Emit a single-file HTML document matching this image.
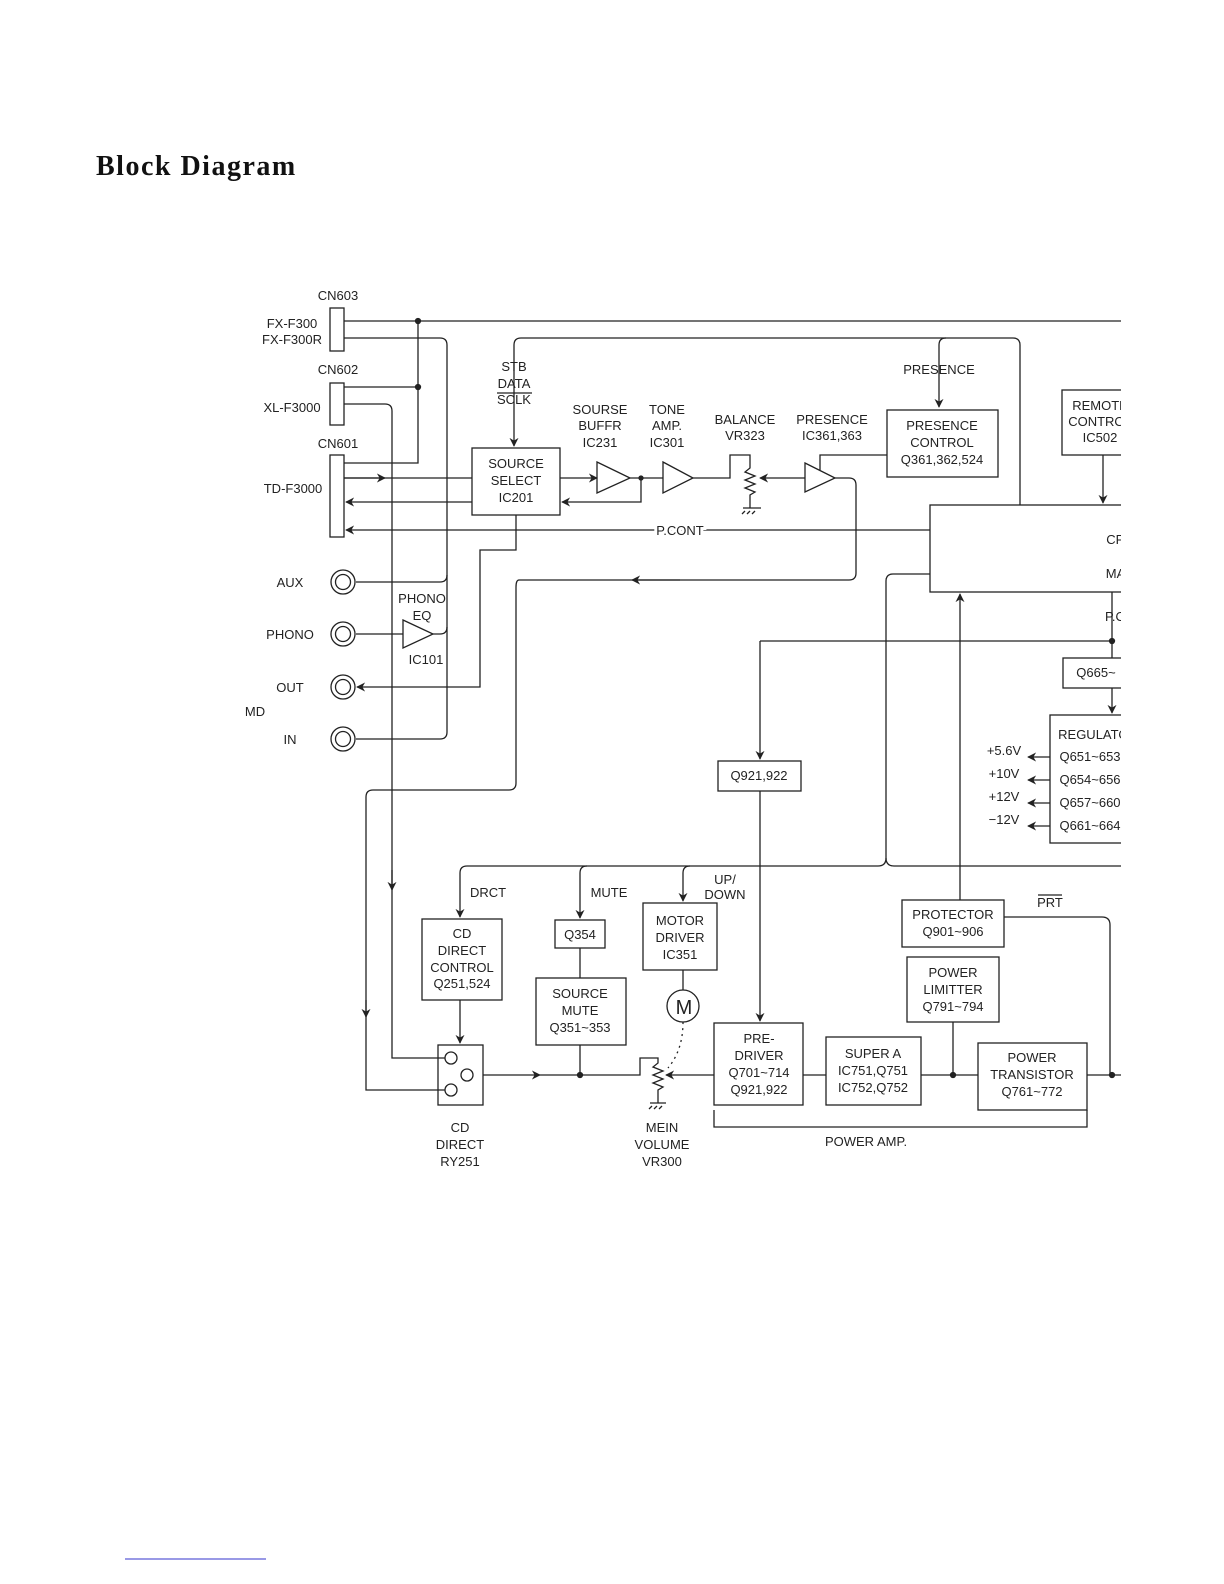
<!DOCTYPE html>
<html><head><meta charset="utf-8"><style>
html,body{margin:0;padding:0;background:#fff;width:1224px;height:1584px;overflow:hidden}
svg{position:absolute;left:0;top:0}
text{font-family:"Liberation Sans",sans-serif;font-size:13px;fill:#222;text-anchor:middle}
.t{font-family:"Liberation Serif",serif;font-weight:bold;font-size:28px;text-anchor:start;fill:#111;letter-spacing:1.5px}
</style></head><body>
<svg width="1224" height="1584" viewBox="0 0 1224 1584">
<defs>
<marker id="a" viewBox="0 0 10 10" refX="9" refY="5" markerWidth="9" markerHeight="9" orient="auto-start-reverse" markerUnits="userSpaceOnUse"><path d="M0,0 L10,5 L0,10 L3,5 z" fill="#222"/></marker>
<clipPath id="c"><rect x="0" y="0" width="1121" height="1584"/></clipPath>
</defs>
<text class="t" x="96" y="175">Block Diagram</text>
<line x1="125" y1="1559" x2="266" y2="1559" stroke="#33c" stroke-width="1"/>
<g clip-path="url(#c)" stroke="#222" stroke-width="1.3" fill="none">
<rect x="330" y="308" width="14" height="43"/>
<rect x="330" y="383" width="14" height="42"/>
<rect x="330" y="455" width="14" height="82"/>
<path d="M344 321H1130"/>
<path d="M344 338H440Q447 338 447 345V732Q447 739 440 739H356"/>
<path d="M418 321V463H344"/>
<path d="M344 387H418"/>
<circle cx="418" cy="321" r="2.5" fill="#222"/>
<circle cx="418" cy="387" r="2.5" fill="#222"/>
<path d="M344 404H385Q392 404 392 411V1058H445"/>
<path d="M344 478H472"/>
<path d="M344 478L385 478" marker-end="url(#a)"/>
<path d="M472 502H346" marker-end="url(#a)"/>
<path d="M930 530H346" marker-end="url(#a)"/>
<path d="M356 582H440Q447 582 447 575"/>
<path d="M356 634H403"/>
<path d="M433 634H440Q447 634 447 627"/>
<polygon points="403,620 433,634 403,648"/>
<path d="M516 515V550H480V687H357" marker-end="url(#a)"/>
<rect x="472" y="448" width="88" height="67"/>
<path d="M514 415V446" marker-end="url(#a)"/>
<path d="M514 415V345Q514 338 521 338H1013Q1020 338 1020 345V505"/>
<path d="M560 478H597" marker-end="url(#a)"/>
<polygon points="597,462 630,478 597,493"/>
<path d="M630 478H663"/>
<circle cx="641" cy="478" r="2" fill="#222"/>
<path d="M641 478V502H562" marker-end="url(#a)"/>
<polygon points="663,462 693,478 663,493"/>
<path d="M693 478H730V455H750V468l-5,4 10,4 -10,4 10,4 -10,4 10,4 -5,3V508"/>
<path d="M743 508h18M745 511l-3,3M750 511l-3,3M755 511l-3,3"/>
<path d="M805 478H760" marker-end="url(#a)"/>
<polygon points="805,463 835,478 805,492"/>
<path d="M820 470V455H887"/>
<path d="M835 478H849Q856 478 856 485V573Q856 580 849 580H519Q516 580 516 587V783Q516 790 509 790H373Q366 790 366 797V1090H445"/>
<path d="M680 580L632 580" marker-end="url(#a)"/>
<rect x="887" y="410" width="111" height="67"/>
<path d="M939 345V407" marker-end="url(#a)"/>
<path d="M939 345Q939 338 946 338"/>
<rect x="1062" y="390" width="70" height="65"/>
<path d="M1103 455V503" marker-end="url(#a)"/>
<rect x="930" y="505" width="200" height="87"/>
<path d="M930 574H893Q886 574 886 581V858Q886 866 878 866H467Q460 866 460 873V917" marker-end="url(#a)"/>
<path d="M886 858Q886 866 894 866H1130"/>
<path d="M1112 592V658M760 641H1112"/>
<circle cx="1112" cy="641" r="2.5" fill="#222"/>
<path d="M760 641V759" marker-end="url(#a)"/>
<rect x="1063" y="658" width="70" height="30"/>
<path d="M1112 688V713" marker-end="url(#a)"/>
<rect x="1050" y="715" width="80" height="128"/>
<path d="M1050 757H1028" marker-end="url(#a)"/>
<path d="M1050 780H1028" marker-end="url(#a)"/>
<path d="M1050 803H1028" marker-end="url(#a)"/>
<path d="M1050 826H1028" marker-end="url(#a)"/>
<rect x="718" y="761" width="83" height="30"/>
<path d="M580 873Q580 866 587 866M580 873V918" marker-end="url(#a)"/>
<path d="M683 873Q683 866 690 866M683 873V901" marker-end="url(#a)"/>
<path d="M392 870V890" marker-end="url(#a)"/>
<path d="M366 1000V1017" marker-end="url(#a)"/>
<rect x="422" y="919" width="80" height="81"/>
<path d="M460 1000V1043" marker-end="url(#a)"/>
<rect x="555" y="920" width="50" height="28"/>
<path d="M580 948V978"/>
<rect x="536" y="978" width="90" height="67"/>
<path d="M580 1045V1075"/>
<rect x="643" y="903" width="74" height="67"/>
<path d="M683 970V990"/>
<circle cx="683" cy="1006" r="16"/>
<path d="M683 1022Q683 1050 668 1068" stroke-dasharray="2,4"/>
<path d="M760 791V1021" marker-end="url(#a)"/>
<rect x="438" y="1045" width="45" height="60"/>
<circle cx="451" cy="1058" r="6"/><circle cx="467" cy="1075" r="6"/><circle cx="451" cy="1090" r="6"/>
<path d="M483 1075H540" marker-end="url(#a)"/>
<path d="M540 1075H640V1058H658V1063l-5,4 10,4 -10,4 10,4 -10,4 10,4 -5,3V1103"/>
<path d="M650 1103h16M652 1106l-3,3M657 1106l-3,3M662 1106l-3,3"/>
<circle cx="580" cy="1075" r="2.5" fill="#222"/>
<path d="M714 1075H666" marker-end="url(#a)"/>
<rect x="714" y="1023" width="89" height="82"/>
<path d="M803 1075H826"/>
<rect x="826" y="1037" width="95" height="68"/>
<path d="M921 1075H978"/>
<circle cx="953" cy="1075" r="2.5" fill="#222"/>
<rect x="907" y="957" width="92" height="65"/>
<path d="M953 1022V1075"/>
<rect x="902" y="900" width="102" height="47"/>
<path d="M960 900V594" marker-end="url(#a)"/>
<path d="M1004 917H1102Q1110 917 1110 925V1075"/>
<rect x="978" y="1043" width="109" height="67"/>
<path d="M1087 1075H1130"/>
<circle cx="1112" cy="1075" r="2.5" fill="#222"/>
<path d="M714 1110V1127H1087V1110"/>
<path d="M1038 895H1062"/>
<path d="M497 393H532"/>
<circle cx="343" cy="582" r="12"/><circle cx="343" cy="582" r="7.5"/>
<circle cx="343" cy="634" r="12"/><circle cx="343" cy="634" r="7.5"/>
<circle cx="343" cy="687" r="12"/><circle cx="343" cy="687" r="7.5"/>
<circle cx="343" cy="739" r="12"/><circle cx="343" cy="739" r="7.5"/>
</g>
<g clip-path="url(#c)">
<text x="338" y="300">CN603</text>
<text x="292" y="328">FX-F300</text>
<text x="292" y="344">FX-F300R</text>
<text x="338" y="374">CN602</text>
<text x="292" y="412">XL-F3000</text>
<text x="338" y="448">CN601</text>
<text x="293" y="493">TD-F3000</text>
<text x="290" y="587">AUX</text>
<text x="290" y="639">PHONO</text>
<text x="290" y="692">OUT</text>
<text x="255" y="716">MD</text>
<text x="290" y="744">IN</text>
<text x="422" y="603">PHONO</text>
<text x="422" y="620">EQ</text>
<text x="426" y="664">IC101</text>
<text x="514" y="371">STB</text>
<text x="514" y="388">DATA</text>
<text x="514" y="404">SCLK</text>
<text x="516" y="468">SOURCE</text>
<text x="516" y="485">SELECT</text>
<text x="516" y="502">IC201</text>
<text x="600" y="414">SOURSE</text>
<text x="600" y="430">BUFFR</text>
<text x="600" y="447">IC231</text>
<text x="667" y="414">TONE</text>
<text x="667" y="430">AMP.</text>
<text x="667" y="447">IC301</text>
<text x="745" y="424">BALANCE</text>
<text x="745" y="440">VR323</text>
<text x="832" y="424">PRESENCE</text>
<text x="832" y="440">IC361,363</text>
<text x="939" y="374">PRESENCE</text>
<text x="942" y="430">PRESENCE</text>
<text x="942" y="447">CONTROL</text>
<text x="942" y="464">Q361,362,524</text>
<text x="1100" y="410">REMOTE</text>
<text x="1100" y="426">CONTROL</text>
<text x="1100" y="442">IC502</text>
<text x="680" y="535" style="paint-order:stroke;stroke:#fff;stroke-width:6px">P.CONT</text>
<text x="1120" y="544">CPU</text>
<text x="1122" y="578">MAIN</text>
<text x="1120" y="621">P.ON</text>
<text x="1096" y="677">Q665~</text>
<text x="1098" y="739">REGULATOR</text>
<text x="1090" y="761">Q651~653</text>
<text x="1090" y="784">Q654~656</text>
<text x="1090" y="807">Q657~660</text>
<text x="1090" y="830">Q661~664</text>
<text x="1004" y="755">+5.6V</text>
<text x="1004" y="778">+10V</text>
<text x="1004" y="801">+12V</text>
<text x="1004" y="824">−12V</text>
<text x="759" y="780">Q921,922</text>
<text x="488" y="897">DRCT</text>
<text x="609" y="897">MUTE</text>
<text x="725" y="884">UP/</text>
<text x="725" y="899">DOWN</text>
<text x="462" y="938">CD</text>
<text x="462" y="955">DIRECT</text>
<text x="462" y="972">CONTROL</text>
<text x="462" y="988">Q251,524</text>
<text x="580" y="939">Q354</text>
<text x="580" y="998">SOURCE</text>
<text x="580" y="1015">MUTE</text>
<text x="580" y="1032">Q351~353</text>
<text x="680" y="925">MOTOR</text>
<text x="680" y="942">DRIVER</text>
<text x="680" y="959">IC351</text>
<text x="684" y="1014" style="font-size:20px">M</text>
<text x="759" y="1043">PRE-</text>
<text x="759" y="1060">DRIVER</text>
<text x="759" y="1077">Q701~714</text>
<text x="759" y="1094">Q921,922</text>
<text x="873" y="1058">SUPER A</text>
<text x="873" y="1075">IC751,Q751</text>
<text x="873" y="1092">IC752,Q752</text>
<text x="1032" y="1062">POWER</text>
<text x="1032" y="1079">TRANSISTOR</text>
<text x="1032" y="1096">Q761~772</text>
<text x="953" y="977">POWER</text>
<text x="953" y="994">LIMITTER</text>
<text x="953" y="1011">Q791~794</text>
<text x="953" y="919">PROTECTOR</text>
<text x="953" y="936">Q901~906</text>
<text x="1050" y="907">PRT</text>
<text x="866" y="1146">POWER AMP.</text>
<text x="460" y="1132">CD</text>
<text x="460" y="1149">DIRECT</text>
<text x="460" y="1166">RY251</text>
<text x="662" y="1132">MEIN</text>
<text x="662" y="1149">VOLUME</text>
<text x="662" y="1166">VR300</text>
</g>
</svg>
</body></html>
